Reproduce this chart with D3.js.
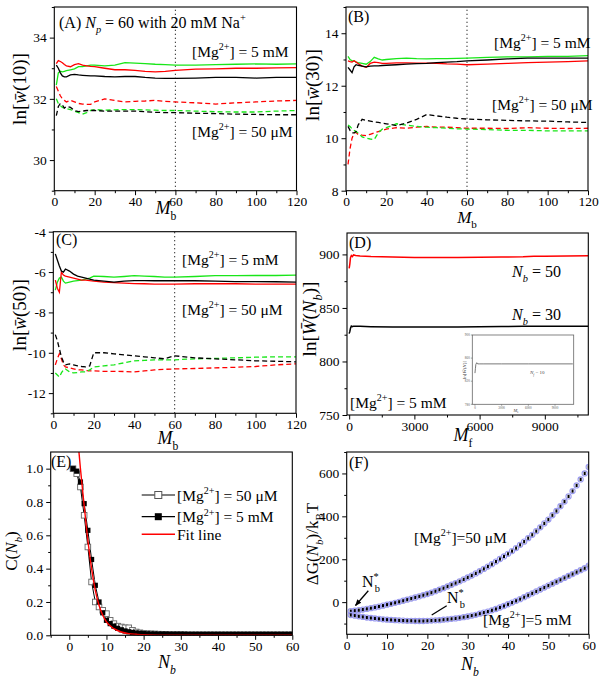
<!DOCTYPE html>
<html><head><meta charset="utf-8">
<script src="https://cdn.jsdelivr.net/npm/d3@7"></script>
<style>
body{margin:0;background:#fff} svg{display:block}
svg, svg text, svg tspan { font-family: "Liberation Serif", "Times New Roman", Times, serif; }
</style>
</head><body>
<svg id="c" width="604" height="682"></svg>
<script>
// ---------------- DATA ----------------
const mb = [1,2,3,4,5,6,8,10,12,14,16,18,20,25,30,35,40,45,50,55,60,70,80,90,100,110,120];
// Panel A  ln[w(10)]
const aGreen5mM = [32.45,32.85,32.9,32.88,32.9,32.92,32.95,32.98,33.05,33.05,33.08,33.1,33.1,33.08,33.1,33.18,33.17,33.15,33.13,33.12,33.1,33.1,33.12,33.13,33.14,33.13,33.14];
const aRed5mM   = [33.15,33.25,33.22,33.18,33.12,33.08,33.05,33.12,33.15,33.1,33.08,33.06,33.05,33.0,32.95,32.95,32.93,32.9,32.88,32.9,32.93,32.97,32.98,33.0,33.0,33.01,33.02];
const aBlack5mM = [33.1,33.0,32.85,32.75,32.72,32.72,32.78,32.8,32.78,32.77,32.76,32.75,32.75,32.73,32.72,32.73,32.73,32.7,32.68,32.67,32.67,32.68,32.7,32.7,32.68,32.7,32.7];
const aRed50uM  = [32.4,32.25,32.1,32.0,31.95,31.9,31.95,31.9,31.85,31.83,31.82,31.82,31.9,32.0,31.95,31.9,31.92,31.93,31.95,31.92,31.9,31.87,31.83,31.87,31.9,31.93,31.95];
const aGreen50uM= [32.0,31.85,31.78,31.72,31.7,31.68,31.65,31.6,31.55,31.5,31.55,31.62,31.65,31.63,31.64,31.65,31.65,31.64,31.63,31.62,31.62,31.6,31.58,31.57,31.57,31.6,31.62];
const aBlack50uM= [31.45,31.75,31.85,31.8,31.7,31.75,31.72,31.62,31.58,31.6,31.62,31.62,31.62,31.6,31.6,31.6,31.6,31.58,31.56,31.55,31.55,31.53,31.52,31.5,31.49,31.48,31.48];
// Panel B  ln[w(30)]
const bGreen5mM = [13.12,13.0,12.95,12.95,12.9,12.88,12.85,12.82,12.92,13.08,13.02,12.98,13.0,13.03,13.05,13.03,13.02,13.03,13.03,13.04,13.05,13.08,13.1,13.1,13.12,13.12,13.15];
const bRed5mM   = [12.95,12.92,12.9,12.95,12.9,12.85,12.75,12.7,12.85,12.9,12.88,12.85,12.85,12.87,12.87,12.86,12.86,12.85,12.83,12.82,12.8,12.82,12.85,12.88,12.9,12.92,12.95];
const bBlack5mM = [12.7,12.6,12.5,12.72,12.8,12.78,12.75,12.72,12.75,12.76,12.76,12.77,12.78,12.8,12.82,12.84,12.85,12.88,12.9,12.92,12.95,12.98,13.02,13.05,13.05,13.05,13.05];
const bBlack50uM= [10.45,10.3,10.2,10.2,10.25,10.5,10.72,10.68,10.65,10.62,10.6,10.58,10.55,10.48,10.58,10.72,10.9,10.85,10.8,10.76,10.73,10.7,10.68,10.66,10.65,10.62,10.6];
const bRed50uM  = [9.0,9.6,10.0,10.2,10.22,10.15,10.12,10.1,10.15,10.2,10.25,10.3,10.35,10.4,10.38,10.42,10.45,10.42,10.42,10.4,10.38,10.38,10.37,10.4,10.38,10.37,10.38];
const bGreen50uM= [10.5,10.45,10.35,10.3,10.25,10.2,10.05,10.0,9.97,9.95,10.2,10.35,10.4,10.55,10.5,10.45,10.42,10.4,10.38,10.36,10.35,10.33,10.3,10.3,10.28,10.28,10.28];
// Panel C  ln[w(50)]
const cBlack5mM = [-5.1,-5.4,-5.7,-5.95,-6.0,-5.85,-5.95,-6.1,-6.2,-6.25,-6.3,-6.35,-6.4,-6.45,-6.5,-6.45,-6.42,-6.42,-6.43,-6.43,-6.42,-6.43,-6.45,-6.47,-6.47,-6.48,-6.5];
const cRed5mM   = [-6.4,-6.8,-7.0,-6.0,-6.15,-6.2,-6.25,-6.3,-6.35,-6.4,-6.4,-6.42,-6.45,-6.5,-6.52,-6.55,-6.57,-6.58,-6.6,-6.6,-6.6,-6.58,-6.58,-6.58,-6.6,-6.6,-6.6];
const cGreen5mM = [-6.9,-6.5,-6.3,-6.25,-6.45,-6.55,-6.5,-6.45,-6.42,-6.4,-6.35,-6.3,-6.2,-6.22,-6.25,-6.22,-6.18,-6.2,-6.22,-6.25,-6.25,-6.22,-6.18,-6.18,-6.17,-6.17,-6.15];
const cBlack50uM= [-9.1,-9.4,-9.8,-10.2,-10.45,-10.6,-10.55,-10.6,-10.65,-10.68,-10.7,-10.65,-10.0,-10.0,-10.05,-10.1,-10.15,-10.2,-10.25,-10.3,-10.15,-10.25,-10.3,-10.35,-10.4,-10.42,-10.45];
const cRed50uM  = [-10.6,-10.3,-10.05,-10.3,-10.6,-10.7,-10.75,-10.8,-10.85,-10.85,-10.88,-10.9,-10.9,-10.92,-10.92,-10.93,-10.95,-10.9,-10.85,-10.82,-10.8,-10.78,-10.75,-10.72,-10.68,-10.6,-10.55];
const cGreen50uM= [-11.0,-11.1,-11.2,-11.0,-10.85,-10.8,-10.95,-11.0,-10.98,-10.95,-10.95,-10.85,-10.7,-10.65,-10.6,-10.5,-10.4,-10.38,-10.35,-10.35,-10.35,-10.3,-10.28,-10.25,-10.22,-10.2,-10.2];
// Panel D  ln[W(Nb)] vs Mf
const mf = [0,30,60,100,150,200,300,500,1000,2000,3000,4000,5000,6000,7000,8000,8500,9000,10000,11000];
const dNb50 = [887,891,897,899,898,899.5,899,898.5,898,897.5,897.2,897,897,897.3,897.5,897.8,898.3,898.3,898.5,898.7];
const dNb30 = [826,828,831,833,832.5,833,833,832.8,832.5,832.3,832.2,832.2,832.3,832.4,832.6,832.8,833,833,833,833];
const insetMf = [0,50,100,200,300,500,1000,3000,6000,9000,11000];
const insetNb10 = [834,842,849,852,850,850,850,850,850,850,850];
// Panel E  C(Nb)
const nE = d3.range(1, 61);
const c50uM = [1.000,0.970,0.890,0.720,0.530,0.320,0.200,0.170,0.150,0.130,
  0.090,0.070,0.055,0.050,0.045,0.045,0.030,0.020,0.015,0.012,
  0.010,0.009,0.008,0.007,0.006,0.006,0.005,0.005,0.005,0.005,
  0.004,0.004,0.004,0.004,0.004,0.004,0.004,0.004,0.004,0.004,
  0.004,0.004,0.004,0.004,0.004,0.004,0.004,0.004,0.004,0.004,
  0.004,0.004,0.004,0.004,0.004,0.004,0.004,0.004,0.004,0.004];
const c5mM = [1.000,0.985,0.920,0.790,0.630,0.455,0.300,0.200,0.135,0.090,
  0.070,0.055,0.042,0.033,0.026,0.021,0.017,0.014,0.012,0.010,
  0.009,0.008,0.008,0.007,0.007,0.007,0.006,0.006,0.006,0.006,
  0.006,0.005,0.005,0.005,0.005,0.005,0.005,0.005,0.005,0.005,
  0.005,0.005,0.005,0.005,0.005,0.005,0.005,0.005,0.005,0.005,
  0.005,0.005,0.005,0.005,0.005,0.005,0.005,0.005,0.005,0.005];
const fitN = [2.2,3,4,5,6,7,8,9,10,12,14,16,18,20,25,30,40,50,60];
const fitC = [1.2,1.0,0.78,0.57,0.40,0.27,0.18,0.12,0.08,0.04,0.02,0.01,0.006,0.003,0.001,0,0,0,0];
// Panel F  dG(Nb)/kBT
const nF = d3.range(1, 61);
const g50uM = [-42,-40,-37.5,-34.5,-31.5,-28,-24.5,-20.5,-16.5,-12,
  -7.7,-3.2,1.5,6.4,11.4,16.5,21.7,27,32.4,38,
  44,51,58,65,73,81,89,97,106,115,
  124,134,144,155,166,177,189,201,213,225,
  238,252,267,282,298,314,331,349,367,385,
  405,425,447,469,493,518,544,572,600,630];
const g5mM = [-60,-63,-66,-69,-72,-74,-76,-78,-80,-82,
  -83,-84,-85,-86,-87,-87,-88,-88,-88,-87,
  -86,-85,-84,-82,-80,-78,-76,-73,-70,-67,
  -63,-59,-54,-49,-44,-38,-32,-25,-18,-10,
  -2,6,14,23,32,41,50,59,68,77,
  86,95,104,113,122,131,140,149,158,170];

// ---------------- DRAWING ----------------
const FONT = "Liberation Serif, Times New Roman, Times, serif";
const GREEN = "#19e619", RED = "#ff0000", BLACK = "#000";
const svg = d3.select("#c");
svg.append("rect").attr("width",604).attr("height",682).attr("fill","#fff");
const defs = svg.append("defs");

function rich(sel, parts, size) {
  let shift = 0;
  parts.forEach(p => {
    if (typeof p === "string") p = {t: p};
    const ts = sel.append("tspan").text(p.t);
    let target = 0, fs = size;
    if (p.sub) { target = size * 0.32; fs = size * 0.65; }
    if (p.sup) { target = -size * 0.42; fs = size * 0.65; }
    ts.attr("dy", (target - shift).toFixed(2)).attr("font-size", fs);
    if (p.dx) ts.attr("dx", p.dx);
    if (p.i) ts.attr("font-style", "italic");
    shift = target;
  });
  return sel;
}
function label(g, x, y, parts, size, anchor, rot) {
  const t = g.append("text").attr("font-size", size).attr("text-anchor", anchor || "start");
  if (rot) t.attr("transform", `translate(${x},${y}) rotate(-90)`);
  else t.attr("x", x).attr("y", y);
  return rich(t, parts, size);
}

function panel(cfg) {
  const g = svg.append("g");
  const x = d3.scaleLinear().domain(cfg.xd).range([cfg.l, cfg.r]);
  const y = d3.scaleLinear().domain(cfg.yd).range([cfg.b, cfg.t]);
  const id = "clip" + cfg.name;
  defs.append("clipPath").attr("id", id).append("rect")
    .attr("x", cfg.l).attr("y", cfg.t).attr("width", cfg.r - cfg.l).attr("height", cfg.b - cfg.t);
  const fs = cfg.tfs || 13.5;
  const style = a => {
    a.select(".domain").remove();
    a.attr("font-family", FONT).attr("font-size", fs);
    a.selectAll("line").attr("stroke", "#000").attr("stroke-width", 1);
    a.selectAll("text").attr("fill", "#000");
  };
  g.append("g").attr("transform", `translate(0,${cfg.b})`)
    .call(d3.axisBottom(x).tickValues(cfg.xm).tickSize(2.5).tickFormat("")).call(style);
  g.append("g").attr("transform", `translate(0,${cfg.b})`)
    .call(d3.axisBottom(x).tickValues(cfg.xt).tickSize(4.5).tickPadding(1.5).tickFormat(cfg.xf || d3.format("d"))).call(style);
  g.append("g").attr("transform", `translate(${cfg.l},0)`)
    .call(d3.axisLeft(y).tickValues(cfg.ym).tickSize(2.5).tickFormat("")).call(style);
  g.append("g").attr("transform", `translate(${cfg.l},0)`)
    .call(d3.axisLeft(y).tickValues(cfg.yt).tickSize(4.5).tickPadding(3).tickFormat(cfg.yf || d3.format("d"))).call(style);
  g.selectAll("text").filter(function(){return this.textContent.startsWith("−");})
    .text(function(){return "-" + this.textContent.slice(1);});
  const plot = g.append("g").attr("clip-path", `url(#${id})`);
  g.append("rect").attr("x", cfg.l).attr("y", cfg.t).attr("width", cfg.r - cfg.l).attr("height", cfg.b - cfg.t)
    .attr("fill", "none").attr("stroke", "#000").attr("stroke-width", 1.1);
  return {g, plot, x, y};
}

function seriesLine(P, xs, ys, color, dashed, w) {
  const line = d3.line().x((d, i) => P.x(xs[i])).y(d => P.y(d));
  P.plot.append("path").attr("d", line(ys)).attr("fill", "none").attr("stroke", color)
    .attr("stroke-width", w || 1.3).attr("stroke-dasharray", dashed ? "5,3" : null);
}
function vdot(P, v) {
  const [y0, y1] = P.y.range();
  P.plot.append("line").attr("x1", P.x(v)).attr("x2", P.x(v)).attr("y1", y0).attr("y2", y1)
    .attr("stroke", "#000").attr("stroke-width", 1.1).attr("stroke-dasharray", "1,3");
}
const MG = (rest) => ["[Mg", {t: "2+", sup: 1}, rest];
const MbTitle = ["", {t: "M", i: 1}, {t: "b", sub: 1}];

// ---- Panel A ----
const A = panel({name: "A", l: 54.3, r: 296.5, t: 7, b: 190.7, xd: [0, 120], yd: [29, 35],
  xt: d3.range(0, 121, 20), xm: d3.range(10, 120, 20), yt: [30, 32, 34], ym: [29, 31, 33, 35]});
vdot(A, 60);
seriesLine(A, mb, aRed50uM, RED, true);
seriesLine(A, mb, aGreen50uM, GREEN, true);
seriesLine(A, mb, aBlack50uM, BLACK, true);
seriesLine(A, mb, aGreen5mM, GREEN);
seriesLine(A, mb, aRed5mM, RED);
seriesLine(A, mb, aBlack5mM, BLACK);
label(A.g, 59, 28, ["(A) ", {t: "N", i: 1}, {t: "p", sub: 1, i: 1}, " = 60 with 20 mM Na", {t: "+", sup: 1}], 16);
label(A.g, 192, 57, MG("] = 5 mM"), 15.5);
label(A.g, 192, 137, MG("] = 50 μM"), 15.5);
label(A.g, 166, 214, MbTitle, 18, "middle");
label(A.g, 26, 89, ["ln[", {t: "w\u0304", i: 1}, "(10)]"], 19, "middle", true);

// ---- Panel B ----
const B = panel({name: "B", l: 346, r: 588, t: 7, b: 190.7, xd: [0, 120], yd: [8, 15],
  xt: d3.range(0, 121, 20), xm: d3.range(10, 120, 20), yt: [8, 10, 12, 14], ym: [9, 11, 13, 15]});
vdot(B, 60);
seriesLine(B, mb, bRed50uM, RED, true);
seriesLine(B, mb, bGreen50uM, GREEN, true);
seriesLine(B, mb, bBlack50uM, BLACK, true);
seriesLine(B, mb, bGreen5mM, GREEN);
seriesLine(B, mb, bRed5mM, RED);
seriesLine(B, mb, bBlack5mM, BLACK);
label(B.g, 348, 22, ["(B)"], 16);
label(B.g, 494, 48, MG("] = 5 mM"), 15.5);
label(B.g, 492, 110, MG("] = 50 μM"), 15.5);
label(B.g, 467, 222.5, MbTitle, 17, "middle");
label(B.g, 319, 85, ["ln[", {t: "w\u0304", i: 1}, "(30)]"], 19, "middle", true);

// ---- Panel C ----
const C = panel({name: "C", l: 53.3, r: 296, t: 231.7, b: 413.3, xd: [0, 120], yd: [-13, -4],
  xt: d3.range(0, 121, 20), xm: d3.range(10, 120, 20), yt: [-12, -10, -8, -6, -4], ym: [-13, -11, -9, -7, -5]});
vdot(C, 60);
seriesLine(C, mb, cRed50uM, RED, true);
seriesLine(C, mb, cGreen50uM, GREEN, true);
seriesLine(C, mb, cBlack50uM, BLACK, true);
seriesLine(C, mb, cGreen5mM, GREEN);
seriesLine(C, mb, cRed5mM, RED);
seriesLine(C, mb, cBlack5mM, BLACK);
label(C.g, 56, 245, ["(C)"], 16);
label(C.g, 182, 265, MG("] = 5 mM"), 15.5);
label(C.g, 182, 315, MG("] = 50 μM"), 15.5);
label(C.g, 168, 444, MbTitle, 18, "middle");
label(C.g, 26, 315, ["ln[", {t: "w\u0304", i: 1}, "(50)]"], 19, "middle", true);

// ---- Panel D ----
const D = panel({name: "D", l: 347, r: 588.3, t: 233, b: 415, xd: [-100, 11000], yd: [750, 920],
  xt: [0, 3000, 6000, 9000], xm: [1500, 4500, 7500, 10500], yt: [750, 800, 850, 900], ym: [775, 825, 875]});
seriesLine(D, mf, dNb50, RED, false, 1.5);
seriesLine(D, mf, dNb30, BLACK, false, 1.5);
label(D.g, 349, 248, ["(D)"], 16);
label(D.g, 512, 277, ["", {t: "N", i: 1}, {t: "b", sub: 1, i: 1}, " = 50"], 16);
label(D.g, 512, 320, ["", {t: "N", i: 1}, {t: "b", sub: 1, i: 1}, " = 30"], 16);
label(D.g, 350, 408, MG("] = 5 mM"), 15.5);
label(D.g, 463, 441, ["", {t: "M", i: 1}, {t: "f", sub: 1}], 18, "middle");
label(D.g, 316, 319, ["ln[", {t: "W\u0304", i: 1}, "(", {t: "N", i: 1}, {t: "b", sub: 1, i: 1}, ")]"], 19, "middle", true);
// inset
(() => {
  const l = 472.3, r = 573.7, t = 335, b = 404.3;
  const g = D.g.append("g");
  const x = d3.scaleLinear().domain([-300, 11100]).range([l, r]);
  const y = d3.scaleLinear().domain([780, 900]).range([b, t]);
  g.append("rect").attr("x", l).attr("y", t).attr("width", r - l).attr("height", b - t)
    .attr("fill", "#fff").attr("stroke", "#666").attr("stroke-width", 0.8);
  [0, 3000, 6000, 9000].forEach(v => {
    g.append("line").attr("x1", x(v)).attr("x2", x(v)).attr("y1", b).attr("y2", b + 1.5).attr("stroke", "#666").attr("stroke-width", 0.6);
    g.append("text").attr("x", x(v)).attr("y", b + 4.3).attr("font-size", 3.3).attr("text-anchor", "middle").attr("fill", "#555").text(v);
  });
  [780, 820, 860, 900].forEach(v => {
    g.append("line").attr("x1", l - 1.5).attr("x2", l).attr("y1", y(v)).attr("y2", y(v)).attr("stroke", "#666").attr("stroke-width", 0.6);
    g.append("text").attr("x", l - 2.5).attr("y", y(v) + 1.2).attr("font-size", 3.3).attr("text-anchor", "end").attr("fill", "#555").text(v);
  });
  const line = d3.line().x((d, i) => x(insetMf[i])).y(d => y(d));
  g.append("path").attr("d", line(insetNb10)).attr("fill", "none").attr("stroke", "#555").attr("stroke-width", 0.8);
  label(g, 530, 374, ["", {t: "N", i: 1}, {t: "f", sub: 1, i: 1}, " = 10"], 5).attr("fill", "#444");
  label(g, 516, 411.5, ["", {t: "M", i: 1}, {t: "e", sub: 1}], 4.5, "middle").attr("fill", "#444");
  label(g, 466, 370, ["ln[", {t: "W\u0304", i: 1}, "(", {t: "N", i: 1}, ")]"], 5, "middle", true).attr("fill", "#444");
})();

// ---- Panel E ----
const E = panel({name: "E", l: 50.7, r: 292.3, t: 452, b: 635.3, xd: [-5, 60], yd: [0, 1.1],
  xt: d3.range(0, 61, 10), xm: d3.range(-5, 60, 10), yt: [0, 0.2, 0.4, 0.6, 0.8, 1.0], ym: [0.1, 0.3, 0.5, 0.7, 0.9],
  yf: d3.format(".1f")});
seriesLine(E, nE, c50uM, BLACK, false, 1);
seriesLine(E, nE, c5mM, BLACK, false, 1);
E.plot.selectAll(".o").data(c50uM).join("rect")
  .attr("x", (d, i) => E.x(nE[i]) - 2.8).attr("y", d => E.y(d) - 2.8).attr("width", 5.6).attr("height", 5.6)
  .attr("fill", "#fff").attr("stroke", "#666").attr("stroke-width", 0.9);
E.plot.selectAll(".f").data(c5mM).join("rect")
  .attr("x", (d, i) => E.x(nE[i]) - 2.6).attr("y", d => E.y(d) - 2.6).attr("width", 5.2).attr("height", 5.2)
  .attr("fill", "#000");
E.plot.append("path").attr("d", d3.line().curve(d3.curveMonotoneX).x((d, i) => E.x(fitN[i])).y(d => E.y(d))(fitC))
  .attr("fill", "none").attr("stroke", RED).attr("stroke-width", 1.4);
label(E.g, 51, 467, ["(E)"], 16);
// legend
const leg = [{y: 495, kind: "open", parts: MG("] = 50 μM")}, {y: 516.7, kind: "fill", parts: MG("] = 5 mM")}, {y: 534.3, kind: "fit", parts: ["Fit line"]}];
leg.forEach(it => {
  E.g.append("line").attr("x1", 141.7).attr("x2", 175).attr("y1", it.y).attr("y2", it.y)
    .attr("stroke", it.kind === "fit" ? RED : "#000").attr("stroke-width", it.kind === "fit" ? 1.4 : 1.2);
  if (it.kind === "open") E.g.append("rect").attr("x", 154.8).attr("y", it.y - 3.5).attr("width", 7).attr("height", 7).attr("fill", "#fff").attr("stroke", "#555").attr("stroke-width", 1);
  if (it.kind === "fill") E.g.append("rect").attr("x", 154.8).attr("y", it.y - 3.5).attr("width", 7).attr("height", 7).attr("fill", "#000");
  label(E.g, 177, it.y + 5.5, it.parts, 15.5);
});
label(E.g, 167, 668, ["", {t: "N", i: 1}, {t: "b", sub: 1, i: 1}], 18, "middle");
label(E.g, 17, 551, ["C(", {t: "N", i: 1}, {t: "b", sub: 1, i: 1}, ")"], 17, "middle", true);

// ---- Panel F ----
const F = panel({name: "F", l: 346.7, r: 588.7, t: 452, b: 634.3, xd: [0, 60], yd: [-150, 700],
  xt: d3.range(0, 61, 10), xm: d3.range(5, 60, 10), yt: [0, 200, 400, 600], ym: [-100, 100, 300, 500, 700]});
[g50uM, g5mM].forEach(arr => {
  F.plot.append("g").selectAll("circle").data(arr).join("circle")
    .attr("cx", (d, i) => F.x(nF[i])).attr("cy", d => F.y(d)).attr("r", 2.6)
    .attr("fill", "none").attr("stroke", "#9a9af0").attr("stroke-width", 1.1);
  F.plot.append("g").selectAll("rect").data(arr).join("rect")
    .attr("x", (d, i) => F.x(nF[i]) - 1).attr("y", d => F.y(d) - 1.6).attr("width", 2).attr("height", 3.2)
    .attr("fill", "#000");
});
label(F.g, 349, 468, ["(F)"], 16);
label(F.g, 414, 543, MG("]=50 μM"), 15.5);
label(F.g, 483, 625, MG("]=5 mM"), 15.5);
label(F.g, 362, 587, ["N", {t: "*", sup: 1}, {t: "b", sub: 1, dx: -4}], 16);
label(F.g, 447, 603, ["N", {t: "*", sup: 1}, {t: "b", sub: 1, dx: -4}], 16);
defs.append("marker").attr("id", "ah").attr("viewBox", "0 0 10 10").attr("refX", 9).attr("refY", 5)
  .attr("markerWidth", 5).attr("markerHeight", 5).attr("orient", "auto")
  .append("path").attr("d", "M0,1 L10,5 L0,9 z").attr("fill", "#000");
F.g.append("line").attr("x1", 368.3).attr("y1", 590.7).attr("x2", 355.5).attr("y2", 605.5)
  .attr("stroke", "#000").attr("stroke-width", 1.3).attr("marker-end", "url(#ah)");
F.g.append("line").attr("x1", 446.7).attr("y1", 605.7).attr("x2", 431.7).attr("y2", 615)
  .attr("stroke", "#000").attr("stroke-width", 1.3);
label(F.g, 470, 670, ["", {t: "N", i: 1}, {t: "b", sub: 1, i: 1}], 18, "middle");
label(F.g, 318, 544, ["ΔG(", {t: "N", i: 1}, {t: "b", sub: 1, i: 1}, ")/k", {t: "B", sub: 1}, "T"], 17, "middle", true);
</script></body></html>
